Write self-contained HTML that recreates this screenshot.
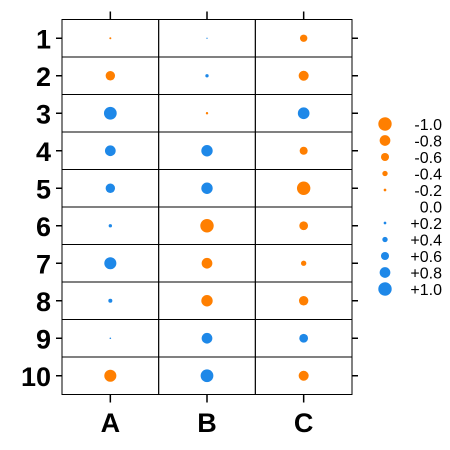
<!DOCTYPE html>
<html><head><meta charset="utf-8"><style>body{margin:0;background:#fff}svg{display:block}</style></head>
<body>
<svg id="chart" width="450" height="450" xmlns="http://www.w3.org/2000/svg" font-family="Liberation Sans, sans-serif"></svg>
<script>
const rows = ["1","2","3","4","5","6","7","8","9","10"];
const cols = ["A","B","C"];
const valuesA = [-0.15,-0.7,0.95,0.8,0.7,0.25,0.9,0.3,0.12,-0.9];
const valuesB = [0.1,0.25,-0.18,0.85,0.85,-1.0,-0.8,-0.85,0.8,0.95];
const valuesC = [-0.55,-0.75,0.87,-0.6,-1.0,-0.65,-0.4,-0.7,0.65,-0.75];
const legendValues = [-1.0,-0.8,-0.6,-0.4,-0.2,0.0,0.2,0.4,0.6,0.8,1.0];
const legendLabels = ["-1.0","-0.8","-0.6","-0.4","-0.2","0.0","+0.2","+0.4","+0.6","+0.8","+1.0"];

const svg = document.getElementById('chart');
const NS = 'http://www.w3.org/2000/svg';
const L=62, R=352, T=19.5, B=394.5;
const cw=(R-L)/cols.length, rh=(B-T)/rows.length;
const xOf = i => L + cw*(i+0.5);
const yOf = j => T + rh*(j+0.5);
const rOf = v => Math.abs(v)*6.7;
const colorOf = v => v<0 ? '#FF7F00' : '#1E88E8';
function mk(tag, attrs){const e=document.createElementNS(NS,tag);for(const k in attrs)e.setAttribute(k,attrs[k]);svg.appendChild(e);return e;}

for(let j=0;j<rows.length;j++){
  for(let i=0;i<cols.length;i++){
    const c = mk('rect',{x:L+cw*i,y:T+rh*j,width:cw,height:rh,fill:'none',stroke:'#000','stroke-width':1});
    
    
  }
}
cols.forEach((c,i)=>{
  const t1=mk('line',{x1:xOf(i),x2:xOf(i),y1:T-8,y2:T,stroke:'#000','stroke-width':1.5});
  
  
  const t2=mk('line',{x1:xOf(i),x2:xOf(i),y1:B,y2:B+8,stroke:'#000','stroke-width':1.5});
  
  
  const lb=mk('text',{x:xOf(i),y:432,'text-anchor':'middle','font-size':27,'font-weight':'bold'});
  lb.textContent=c;
  
  
});
rows.forEach((r,j)=>{
  const t1=mk('line',{x1:L-6,x2:L,y1:yOf(j),y2:yOf(j),stroke:'#000','stroke-width':1.5});
  
  
  const t2=mk('line',{x1:R,x2:R+6,y1:yOf(j),y2:yOf(j),stroke:'#000','stroke-width':1.5});
  
  
  const lb=mk('text',{x:51,y:yOf(j)+10,'text-anchor':'end','font-size':27,'font-weight':'bold'});
  lb.textContent=r;
  
  
});
[valuesA,valuesB,valuesC].forEach((vals,i)=>{
  vals.forEach((v,j)=>{
    const d=mk('circle',{cx:xOf(i),cy:yOf(j),r:rOf(v),fill:colorOf(v)});
    
    
  });
});
legendValues.forEach((v,k)=>{
  const y=124+k*16.5;
  if(v!==0){
    const c=mk('circle',{cx:385,cy:y,r:rOf(v),fill:colorOf(v)});
    
    
  }
  const t=mk('text',{x:442,y:y+6,'text-anchor':'end','font-size':16});
  t.textContent=legendLabels[k];
  
  
});
</script>
</body></html>
